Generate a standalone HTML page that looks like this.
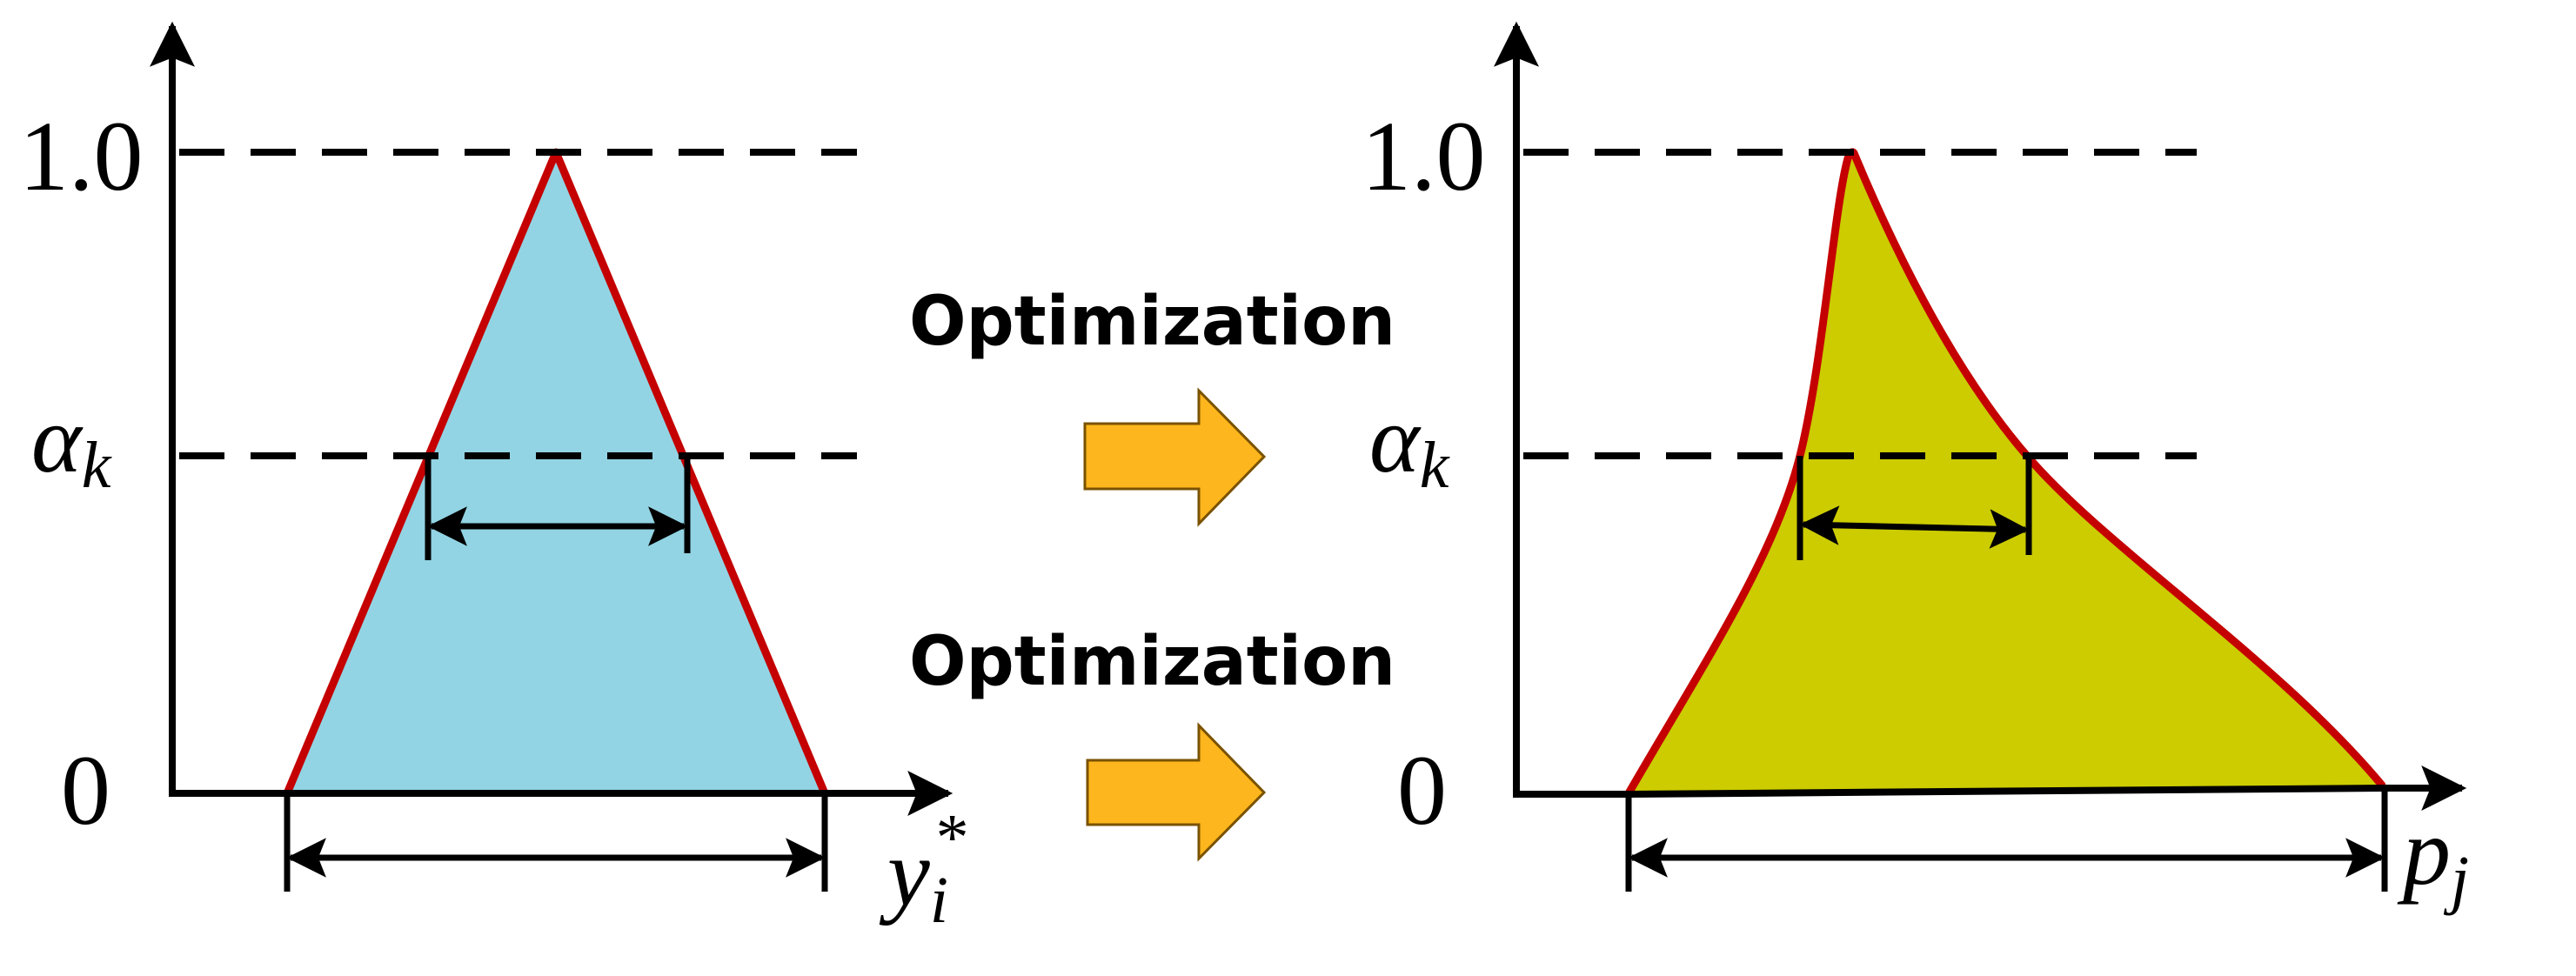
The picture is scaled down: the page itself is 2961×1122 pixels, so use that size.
<!DOCTYPE html>
<html><head><meta charset="utf-8"><style>html,body{margin:0;padding:0;background:#fff}svg{display:block}</style></head><body>
<svg width="2961" height="1122" viewBox="0 0 2961 1122" xmlns="http://www.w3.org/2000/svg">
<defs>
<marker id="ah" viewBox="0 0 10 10" refX="9" refY="5" markerWidth="7" markerHeight="6.5" markerUnits="strokeWidth" orient="auto-start-reverse"><path d="M0,0 L10,5 L0,10 L2,5 z" fill="#000"/></marker>
</defs>
<!-- LEFT PANEL -->
<polygon points="330,912 639,175 948,912" fill="#92d4e3"/>
<polyline points="330,912 639,175 948,912" fill="none" stroke="#c40000" stroke-width="9" stroke-linejoin="round"/>
<line x1="198" y1="175" x2="985" y2="175" stroke="#000" stroke-width="8" stroke-dasharray="52,30" stroke-dashoffset="-8"/>
<line x1="198" y1="524" x2="985" y2="524" stroke="#000" stroke-width="8" stroke-dasharray="52,30" stroke-dashoffset="-8"/>
<line x1="198" y1="915" x2="198" y2="30" stroke="#000" stroke-width="8" marker-end="url(#ah)"/>
<line x1="194" y1="912" x2="1090" y2="912" stroke="#000" stroke-width="8" marker-end="url(#ah)"/>
<line x1="492" y1="524" x2="492" y2="644" stroke="#000" stroke-width="7"/>
<line x1="790" y1="524" x2="790" y2="636" stroke="#000" stroke-width="7"/>
<line x1="496" y1="605" x2="786" y2="605" stroke="#000" stroke-width="7" marker-start="url(#ah)" marker-end="url(#ah)"/>
<line x1="330" y1="912" x2="330" y2="1025" stroke="#000" stroke-width="7"/>
<line x1="948" y1="912" x2="948" y2="1025" stroke="#000" stroke-width="7"/>
<line x1="334" y1="986" x2="944" y2="986" stroke="#000" stroke-width="7" marker-start="url(#ah)" marker-end="url(#ah)"/>
<g font-family="Liberation Serif, serif" fill="#000">
<text x="22" y="218" font-size="114">1.0</text>
<text x="36" y="542" font-size="110" font-style="italic">α<tspan font-size="76" dy="18">k</tspan></text>
<text x="70" y="947" font-size="114">0</text>
<text x="1020" y="1040" font-size="110" font-style="italic">y<tspan font-size="76" dy="20">i</tspan><tspan font-size="76" dy="-72" dx="-18">*</tspan></text>
</g>
<!-- MIDDLE -->
<g font-family="DejaVu Sans, Liberation Sans, sans-serif" font-weight="bold" font-size="78" fill="#000">
<text x="1045" y="396" textLength="559" lengthAdjust="spacingAndGlyphs">Optimization</text>
<text x="1045" y="787" textLength="559" lengthAdjust="spacingAndGlyphs">Optimization</text>
</g>
<polygon points="1247,487 1378,487 1378,449 1453,525 1378,602 1378,562 1247,562" fill="#fdb61d" stroke="#7a5200" stroke-width="3"/>
<polygon points="1250,874 1378,874 1378,834 1453,911 1378,987 1378,948 1250,948" fill="#fdb61d" stroke="#7a5200" stroke-width="3"/>
<!-- RIGHT PANEL -->
<path d="M1872,912 C1960,760 2040,640 2069,524 C2095,420 2108,240 2124,182 Q2128,172 2131,176 C2170,270 2240,420 2330,524 C2420,630 2620,760 2739,904 Z" fill="#cccc00"/>
<path d="M1872,912 C1960,760 2040,640 2069,524 C2095,420 2108,240 2124,182 Q2128,172 2131,176 C2170,270 2240,420 2330,524 C2420,630 2620,760 2739,904" fill="none" stroke="#c40000" stroke-width="9" stroke-linejoin="round"/>
<line x1="1743" y1="175" x2="2525" y2="175" stroke="#000" stroke-width="8" stroke-dasharray="52,30" stroke-dashoffset="-8"/>
<line x1="1743" y1="524" x2="2525" y2="524" stroke="#000" stroke-width="8" stroke-dasharray="52,30" stroke-dashoffset="-8"/>
<line x1="1743" y1="915" x2="1743" y2="30" stroke="#000" stroke-width="8" marker-end="url(#ah)"/>
<polyline points="1739,913 1872,913 2739,906 2830,906" fill="none" stroke="#000" stroke-width="8"/>
<line x1="2826" y1="906" x2="2830" y2="906" stroke="#000" stroke-width="8" marker-end="url(#ah)"/>
<line x1="2069" y1="524" x2="2069" y2="644" stroke="#000" stroke-width="7"/>
<line x1="2332" y1="524" x2="2332" y2="638" stroke="#000" stroke-width="7"/>
<line x1="2073" y1="603" x2="2328" y2="609" stroke="#000" stroke-width="7" marker-start="url(#ah)" marker-end="url(#ah)"/>
<line x1="1872" y1="912" x2="1872" y2="1025" stroke="#000" stroke-width="7"/>
<line x1="2741" y1="906" x2="2741" y2="1025" stroke="#000" stroke-width="7"/>
<line x1="1876" y1="986" x2="2737" y2="986" stroke="#000" stroke-width="7" marker-start="url(#ah)" marker-end="url(#ah)"/>
<g font-family="Liberation Serif, serif" fill="#000">
<text x="1565" y="218" font-size="114">1.0</text>
<text x="1574" y="542" font-size="110" font-style="italic">α<tspan font-size="76" dy="18">k</tspan></text>
<text x="1606" y="947" font-size="114">0</text>
<text x="2762" y="1016" font-size="110" font-style="italic">p<tspan font-size="76" dy="20">j</tspan></text>
</g>
</svg>
</body></html>
